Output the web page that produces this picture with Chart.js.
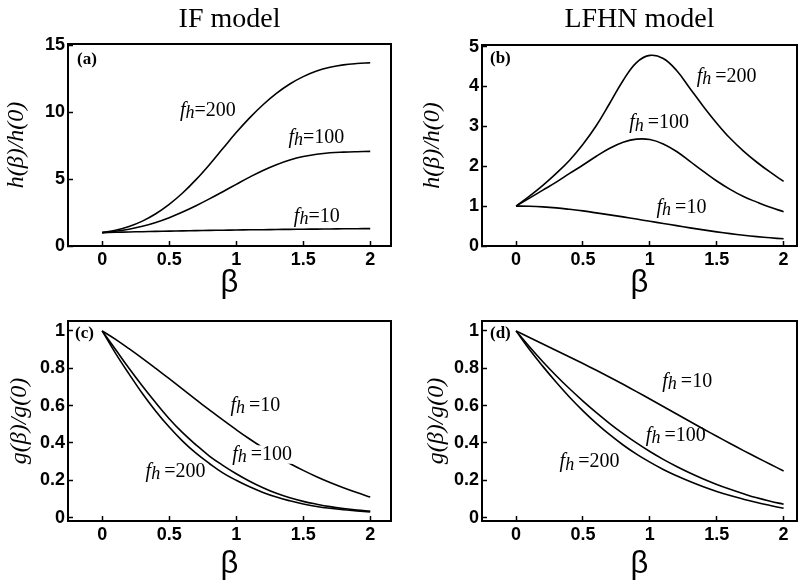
<!DOCTYPE html>
<html lang="en">
<head>
<meta charset="UTF-8"/>
<title>IF model / LFHN model</title>
<script src="https://cdn.jsdelivr.net/npm/chart.js"></script>
<style>
  body { margin: 0; background: #fff; }
  canvas.panel { position: absolute; }
</style>
</head>
<body>
<canvas id="pa" class="panel" width="400" height="310" style="left:0;top:0"></canvas>
<canvas id="pb" class="panel" width="399" height="310" style="left:400px;top:0"></canvas>
<canvas id="pc" class="panel" width="400" height="292" style="left:0;top:292px"></canvas>
<canvas id="pd" class="panel" width="399" height="292" style="left:400px;top:292px"></canvas>
<script>
const beta = [0, 0.1, 0.2, 0.3, 0.4, 0.5, 0.6, 0.7, 0.8, 0.9, 1, 1.1, 1.2, 1.3, 1.4, 1.5, 1.6, 1.7, 1.8, 1.9, 2];

// (a) IF model, h(beta)/h(0)
const hIF10  = [1, 1.03, 1.05, 1.07, 1.09, 1.11, 1.13, 1.15, 1.165, 1.18, 1.195, 1.21, 1.22, 1.235, 1.245, 1.255, 1.265, 1.275, 1.285, 1.295, 1.3];
const hIF100 = [1, 1.1, 1.25, 1.47, 1.76, 2.12, 2.54, 3.01, 3.52, 4.06, 4.61, 5.15, 5.65, 6.08, 6.43, 6.69, 6.86, 6.97, 7.02, 7.05, 7.07];
const hIF200 = [1, 1.18, 1.46, 1.86, 2.41, 3.11, 3.96, 4.96, 6.08, 7.28, 8.48, 9.58, 10.56, 11.41, 12.11, 12.66, 13.08, 13.36, 13.54, 13.64, 13.7];

// (b) LFHN model, h(beta)/h(0)
const hLF10  = [1, 0.995, 0.98, 0.955, 0.92, 0.88, 0.83, 0.78, 0.73, 0.675, 0.62, 0.565, 0.51, 0.455, 0.405, 0.355, 0.31, 0.27, 0.235, 0.205, 0.18];
const hLF100 = [1, 1.2, 1.4, 1.6, 1.82, 2.03, 2.25, 2.45, 2.6, 2.68, 2.67, 2.56, 2.37, 2.12, 1.87, 1.63, 1.42, 1.24, 1.1, 0.97, 0.86];
const hLF200 = [1, 1.25, 1.52, 1.82, 2.15, 2.55, 3.02, 3.58, 4.15, 4.6, 4.78, 4.7, 4.4, 3.95, 3.5, 3.08, 2.7, 2.38, 2.1, 1.85, 1.62];

// (c) IF model, g(beta)/g(0)
const gIF10  = [1, 0.955, 0.905, 0.853, 0.799, 0.744, 0.688, 0.632, 0.577, 0.523, 0.471, 0.421, 0.374, 0.33, 0.29, 0.253, 0.219, 0.188, 0.16, 0.134, 0.11];
const gIF100 = [1, 0.9, 0.8, 0.705, 0.615, 0.53, 0.455, 0.39, 0.33, 0.28, 0.235, 0.195, 0.16, 0.13, 0.106, 0.087, 0.072, 0.059, 0.049, 0.041, 0.035];
const gIF200 = [1, 0.88, 0.77, 0.665, 0.57, 0.485, 0.41, 0.345, 0.29, 0.24, 0.2, 0.165, 0.135, 0.11, 0.09, 0.073, 0.06, 0.05, 0.042, 0.036, 0.03];

// (d) LFHN model, g(beta)/g(0)
const gLF10  = [1, 0.965, 0.93, 0.895, 0.86, 0.825, 0.789, 0.752, 0.714, 0.675, 0.635, 0.595, 0.555, 0.515, 0.475, 0.436, 0.397, 0.359, 0.322, 0.286, 0.25];
const gLF100 = [1, 0.915, 0.835, 0.76, 0.69, 0.624, 0.562, 0.504, 0.45, 0.4, 0.354, 0.312, 0.274, 0.239, 0.207, 0.178, 0.152, 0.128, 0.106, 0.088, 0.072];
const gLF200 = [1, 0.9, 0.81, 0.725, 0.645, 0.572, 0.505, 0.444, 0.389, 0.34, 0.297, 0.258, 0.224, 0.193, 0.165, 0.14, 0.118, 0.099, 0.081, 0.065, 0.05];

// tick labels
const betaTicks = [0, 0.5, 1, 1.5, 2];
const hIFTicks = [0, 5, 10, 15];
const hLFTicks = [0, 1, 2, 3, 4, 5];
const gTicks = [0, 0.2, 0.4, 0.6, 0.8, 1];

// f_h labels (value, beta, ratio)
const notesA = [{v: '200', x: 0.58, y: 9.75}, {v: '100', x: 1.39, y: 7.73}, {v: '10', x: 1.43, y: 1.8}];
const notesB = [{v: '200', x: 1.35, y: 4.12}, {v: '100', x: 0.845, y: 2.95}, {v: '10', x: 1.05, y: 0.84}];
const notesC = [{v: '10', x: 0.957, y: 0.572}, {v: '100', x: 0.97, y: 0.31, knock: true}, {v: '200', x: 0.324, y: 0.22}];
const notesD = [{v: '10', x: 1.093, y: 0.70}, {v: '100', x: 0.97, y: 0.41}, {v: '200', x: 0.325, y: 0.27}];

const serif = "'Liberation Serif', 'Times New Roman', serif";
const sans = "'Liberation Sans', Arial, sans-serif";

function drawNote(ctx, px, py, val, gap, knock) {
    const S = 20;
    const fF = 'italic ' + S + 'px ' + serif;
    const fH = 'italic ' + Math.round(S * 0.9) + 'px ' + serif;
    const fV = S + 'px ' + serif;
    ctx.font = fF; const wf = ctx.measureText('f').width;
    ctx.font = fH; const wh = ctx.measureText('h').width;
    ctx.font = fV; const wv = ctx.measureText('=' + val).width;
    if (knock) {
        ctx.fillStyle = '#fff';
        ctx.fillRect(px - 2, py - S * 0.72, wf + wh + gap + wv + 4, S * 0.92);
    }
    ctx.fillStyle = '#000';
    ctx.font = fF; ctx.fillText('f', px, py);
    ctx.font = fH; ctx.fillText('h', px + wf, py + S * 0.12);
    ctx.font = fV; ctx.fillText('=' + val, px + wf + wh + gap, py);
}

const extras = {
    id: 'extras',
    afterDatasetsDraw(chart, args, o) {
        const {ctx, chartArea: a, scales: {x, y}} = chart;
        ctx.save();
        ctx.strokeStyle = '#000';
        ctx.lineWidth = 2;
        ctx.strokeRect(a.left, a.top, a.right - a.left, a.bottom - a.top);
        ctx.textBaseline = 'alphabetic';
        ctx.textAlign = 'left';
        ctx.fillStyle = '#000';
        ctx.font = 'bold 17px ' + serif;
        ctx.fillText(o.tag, a.left + o.tagDx, a.top + o.tagDy);
        o.notes.forEach(n => {
            drawNote(ctx, x.getPixelForValue(n.x), y.getPixelForValue(n.y), n.v, o.gap, n.knock);
        });
        ctx.restore();
    }
};

function panel(id, p) {
    const tickFont = {family: sans, size: 18, weight: 'bold'};
    new Chart(document.getElementById(id), {
        type: 'line',
        data: {
            datasets: p.series.map(s => ({
                data: beta.map((b, i) => ({x: b, y: s[i]})),
                borderColor: '#000',
                borderWidth: 1.6,
                pointRadius: 0,
                tension: 0.4,
                fill: false
            }))
        },
        options: {
            responsive: false,
            animation: false,
            events: [],
            layout: {padding: {left: 0, right: p.padR, top: p.padT, bottom: 0}},
            plugins: {
                legend: {display: false},
                tooltip: {enabled: false},
                title: p.title ? {
                    display: true, text: p.title, color: '#000', fullSize: false,
                    font: {family: serif, size: 28, weight: 'normal', lineHeight: 1},
                    padding: {top: 6, bottom: p.titleBottom}
                } : {display: false},
                extras: {tag: p.tag, tagDx: p.tagDx, tagDy: p.tagDy, notes: p.notes, gap: p.gap}
            },
            scales: {
                x: {
                    type: 'linear', min: p.xMin, max: p.xMax,
                    afterBuildTicks: s => { s.ticks = betaTicks.map(v => ({value: v})); },
                    afterFit: s => { s.height = p.xH; },
                    border: {display: true, color: '#000', width: 2},
                    grid: {drawOnChartArea: false, drawTicks: true, tickLength: -5, tickColor: '#000', tickWidth: 1.5},
                    ticks: {color: '#000', font: tickFont, padding: 8, maxRotation: 0, autoSkip: false,
                            callback: v => String(v)},
                    title: {display: true, text: 'β', color: '#000',
                            font: {family: sans, size: 31, lineHeight: 1},
                            padding: {top: 0, bottom: p.betaPad}}
                },
                y: {
                    type: 'linear', min: p.yMin, max: p.yMax,
                    afterBuildTicks: s => { s.ticks = p.yTicks.map(v => ({value: v})); },
                    afterFit: s => { s.width = p.yW; },
                    border: {display: true, color: '#000', width: 2},
                    grid: {drawOnChartArea: false, drawTicks: true, tickLength: -5, tickColor: '#000', tickWidth: 1.5},
                    ticks: {color: '#000', font: tickFont, padding: 8, autoSkip: false,
                            callback: v => String(v)},
                    title: {display: true, text: p.yTitle, color: '#000',
                            font: {family: serif, size: 24, style: 'italic', lineHeight: 1},
                            padding: {top: p.yTitlePad, bottom: 0}}
                }
            }
        },
        plugins: [extras]
    });
}

panel('pa', {
    series: [hIF10, hIF100, hIF200], notes: notesA, gap: 0, tag: '(a)', tagDx: 9, tagDy: 20,
    title: 'IF model', titleBottom: 10, padT: 0, padR: 9, yW: 68, xH: 64, betaPad: 11,
    xMin: -0.255, xMax: 2.155, yMin: 0, yMax: 15.1, yTicks: hIFTicks,
    yTitle: 'h(β)/h(0)', yTitlePad: 5
});
panel('pb', {
    series: [hLF10, hLF100, hLF200], notes: notesB, gap: 4, tag: '(b)', tagDx: 8, tagDy: 18,
    title: 'LFHN model', titleBottom: 11, padT: 0, padR: 2, yW: 82, xH: 64, betaPad: 11,
    xMin: -0.255, xMax: 2.1, yMin: 0, yMax: 5.04, yTicks: hLFTicks,
    yTitle: 'h(β)/h(0)', yTitlePad: 21
});
panel('pc', {
    series: [gIF10, gIF100, gIF200], notes: notesC, gap: 4, tag: '(c)', tagDx: 7, tagDy: 17,
    title: null, padT: 29, padR: 9, yW: 68, xH: 63, betaPad: 4,
    xMin: -0.255, xMax: 2.155, yMin: -0.018, yMax: 1.053, yTicks: gTicks,
    yTitle: 'g(β)/g(0)', yTitlePad: 8
});
panel('pd', {
    series: [gLF10, gLF100, gLF200], notes: notesD, gap: 4, tag: '(d)', tagDx: 8, tagDy: 17,
    title: null, padT: 29, padR: 2, yW: 82, xH: 63, betaPad: 4,
    xMin: -0.255, xMax: 2.1, yMin: -0.018, yMax: 1.053, yTicks: gTicks,
    yTitle: 'g(β)/g(0)', yTitlePad: 25
});
</script>
</body>
</html>
